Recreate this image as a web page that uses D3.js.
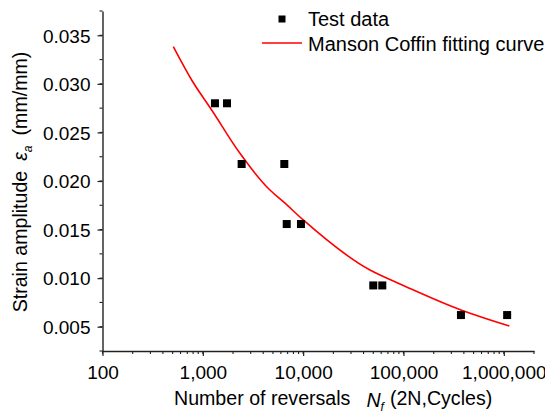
<!DOCTYPE html>
<html>
<head>
<meta charset="utf-8">
<script src="https://cdn.jsdelivr.net/npm/d3@7"></script>
<style>
  html, body { margin: 0; padding: 0; background: #fff; }
  svg { display: block; font-family: Arial, "Liberation Sans", sans-serif; }
</style>
</head>
<body>
<svg id="chart" width="545" height="416"></svg>
<script>
// ---- data ----
const testReversals = [1321, 1742, 2437, 6490, 6860, 9510, 50000, 61500, 374000, 1080000];
const testStrain    = [0.0280, 0.0280, 0.02175, 0.02175, 0.01557, 0.01557, 0.00925, 0.00925, 0.0062, 0.0062];

const curveReversals = [508, 774, 1225, 2344, 4667, 6340, 10020, 46350, 58350, 92260, 374000, 1135000];
const curveStrain    = [0.03383, 0.0304, 0.02731, 0.02285, 0.01907, 0.01787, 0.01599, 0.01084, 0.01032, 0.0094, 0.00672, 0.00507];

const xTicks = [100, 1000, 10000, 100000, 1000000];
const yTicks = [0.005, 0.010, 0.015, 0.020, 0.025, 0.030, 0.035];
const legendLabels = ["Test data", "Manson Coffin fitting curve"];

// ---- layout ----
const svg = d3.select("#chart");
const mLeft = 102.5, mRight = 534, mTop = 11, mBottom = 351;
const fontSize = 19;
const titleSize = 19.6;
const legendSize = 20;
const axisColor = "#222";

const x = d3.scaleLog().domain([100, 2000000]).range([mLeft, mRight]);
const y = d3.scaleLinear().domain([0.0025, 0.0375]).range([mBottom, mTop]);

// minor ticks
const xMinor = [];
for (let p = 2; p <= 6; p++) {
  for (let m = 1; m <= 9; m++) {
    const v = m * Math.pow(10, p);
    if (v <= 2000000) xMinor.push(v);
  }
}
const yMinor = d3.range(0, 16).map(i => 0.0025 + i * 0.0025).filter(v => v <= 0.03751);

const g = svg.append("g");

// x minor ticks
g.selectAll(".xminor").data(xMinor).join("line")
  .attr("x1", d => x(d)).attr("x2", d => x(d))
  .attr("y1", mBottom).attr("y2", mBottom + 3)
  .attr("stroke", axisColor).attr("stroke-width", 1.1);
// y minor ticks
g.selectAll(".yminor").data(yMinor).join("line")
  .attr("x1", mLeft).attr("x2", mLeft - 3)
  .attr("y1", d => y(d)).attr("y2", d => y(d))
  .attr("stroke", axisColor).attr("stroke-width", 1.1);

// x axis
const xAxis = d3.axisBottom(x).tickValues(xTicks).tickFormat(d3.format(",")).tickSize(5).tickSizeOuter(0);
const gx = g.append("g").attr("transform", `translate(0,${mBottom})`).call(xAxis);
gx.select(".domain").attr("stroke", axisColor).attr("stroke-width", 1.4);
gx.selectAll(".tick line").attr("stroke", axisColor).attr("stroke-width", 1.2);
gx.selectAll(".tick text").attr("font-size", fontSize).attr("fill", "#000")
  .attr("font-family", "Arial, 'Liberation Sans', sans-serif")
  .attr("y", 28).attr("dy", 0);

// y axis
const yAxis = d3.axisLeft(y).tickValues(yTicks).tickFormat(d3.format(".3f")).tickSize(5).tickSizeOuter(0);
const gy = g.append("g").attr("transform", `translate(${mLeft},0)`).call(yAxis);
gy.select(".domain").attr("stroke", axisColor).attr("stroke-width", 1.4);
gy.selectAll(".tick line").attr("stroke", axisColor).attr("stroke-width", 1.2);
gy.selectAll(".tick text").attr("font-size", fontSize).attr("fill", "#000")
  .attr("font-family", "Arial, 'Liberation Sans', sans-serif")
  .attr("x", -12).attr("dy", "0.36em");

// fitting curve
const curveData = curveReversals.map((n, i) => ({ n, e: curveStrain[i] }));
g.append("path")
  .datum(curveData)
  .attr("fill", "none")
  .attr("stroke", "#ff0000")
  .attr("stroke-width", 1.6)
  .attr("stroke-linejoin", "round")
  .attr("d", d3.line().x(d => x(d.n)).y(d => y(d.e)).curve(d3.curveMonotoneX));

// test data squares
const sq = 8;
const testData = testReversals.map((n, i) => ({ n, e: testStrain[i] }));
g.selectAll(".pt").data(testData).join("rect")
  .attr("x", d => x(d.n) - sq / 2)
  .attr("y", d => y(d.e) - sq / 2)
  .attr("width", sq).attr("height", sq)
  .attr("fill", "#000");

// legend
const lg = svg.append("g");
lg.append("rect").attr("x", 282 - 3.5).attr("y", 19 - 3.5).attr("width", 7).attr("height", 7).attr("fill", "#000");
lg.append("text").attr("x", 308).attr("y", 26).attr("font-size", legendSize).text(legendLabels[0]);
lg.append("line").attr("x1", 262).attr("x2", 302).attr("y1", 43).attr("y2", 43)
  .attr("stroke", "#ff0000").attr("stroke-width", 1.6);
lg.append("text").attr("x", 308).attr("y", 50.5).attr("font-size", legendSize).text(legendLabels[1]);

// x axis title
const xt = svg.append("text").attr("x", 174).attr("y", 405).attr("font-size", titleSize);
xt.append("tspan").text("Number of reversals");
xt.append("tspan").attr("dx", 16).attr("dy", 2).attr("font-style", "italic").text("N");
xt.append("tspan").attr("dy", 4).attr("font-size", 12).attr("font-style", "italic").text("f");
xt.append("tspan").attr("dy", -6).attr("dx", 6).text("(2N,Cycles)");

// y axis title
const yt = svg.append("text")
  .attr("transform", "translate(27,182) rotate(-90)")
  .attr("text-anchor", "middle")
  .attr("font-size", titleSize);
yt.append("tspan").text("Strain amplitude");
yt.append("tspan").attr("dx", 10).attr("font-style", "italic").text("ε");
yt.append("tspan").attr("dy", 5).attr("font-size", 12).attr("font-style", "italic").text("a");
yt.append("tspan").attr("dy", -5).attr("dx", 10).text("(mm/mm)");
</script>
</body>
</html>
